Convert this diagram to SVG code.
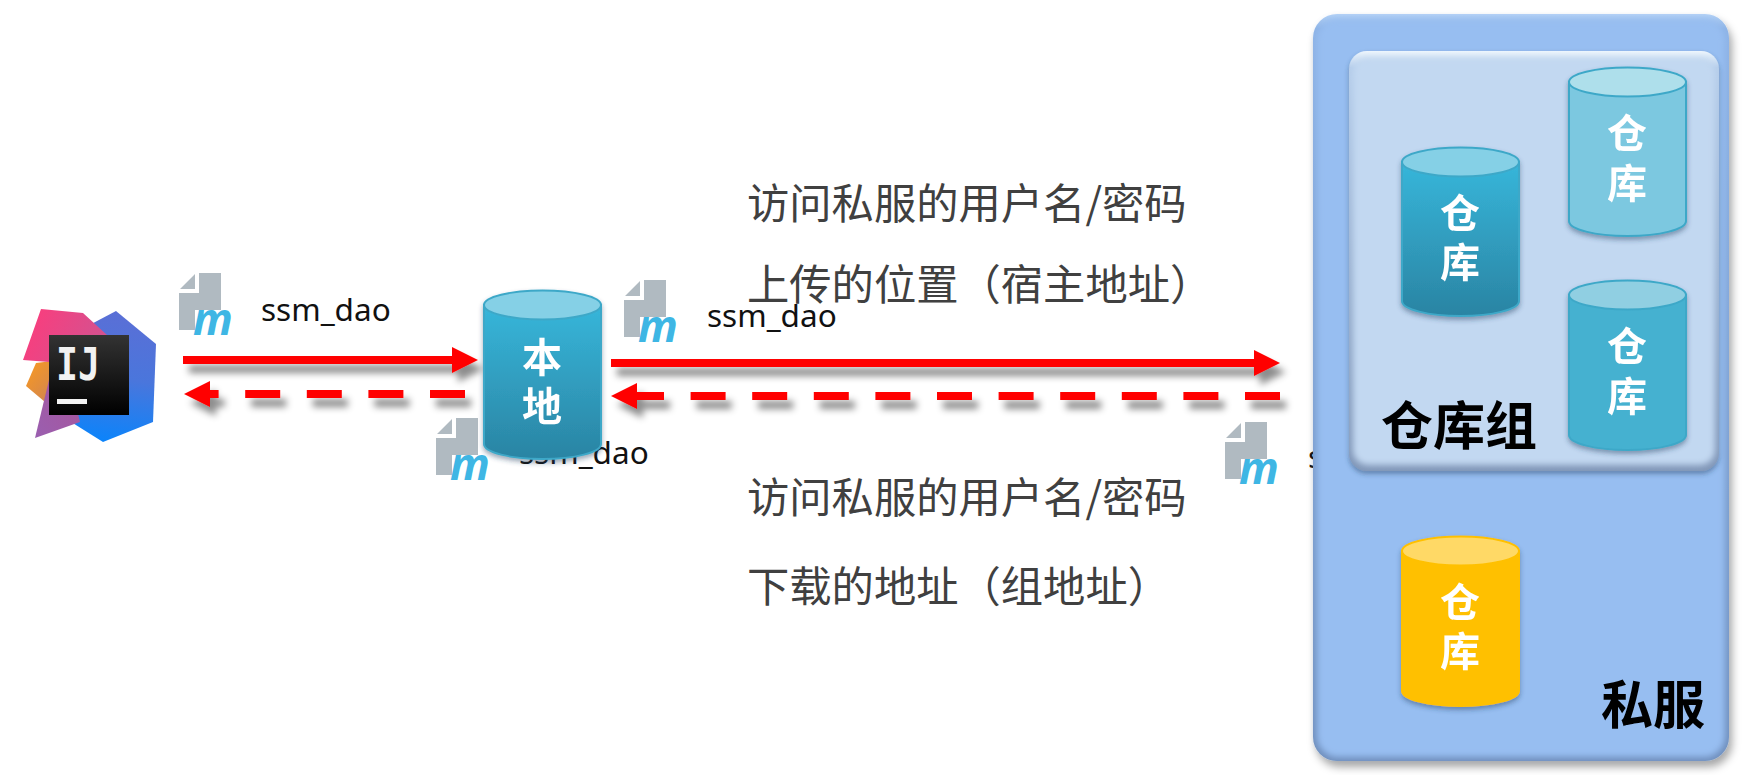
<svg xmlns="http://www.w3.org/2000/svg" width="1762" height="775" viewBox="0 0 1762 775">
<style>
.lbl{font-family:"Noto Sans","Open Sans",sans-serif;font-size:31.500px;fill:#111}
.cn{font-family:"Noto Sans CJK SC",sans-serif;font-size:42.300px;fill:#404040}
.cyl{font-family:"Noto Sans CJK SC",sans-serif;font-size:40px;font-weight:700;fill:#fff;text-anchor:middle}
.big{font-family:"Noto Sans CJK SC",sans-serif;font-size:52px;font-weight:700;fill:#000}
.solid{stroke:#f00;stroke-width:8;fill:none}
.dash{stroke:#f00;stroke-width:8;fill:none;stroke-dasharray:35 26.6}
.head{fill:#f00}
.m{font-family:"Open Sans",sans-serif;font-weight:700;font-style:italic;font-size:44px;fill:#3eb6e4}
</style>
<defs>
<filter id="sh" x="-10%" y="-100%" width="120%" height="400%"><feDropShadow dx="6" dy="9" stdDeviation="3.500" flood-color="#000" flood-opacity=".45"/></filter>
<filter id="csh" x="-20%" y="-20%" width="140%" height="140%"><feDropShadow dx="0" dy="3" stdDeviation="2.500" flood-color="#204060" flood-opacity=".45"/></filter>
<filter id="psh" x="-5%" y="-5%" width="110%" height="110%"><feDropShadow dx="3" dy="6" stdDeviation="4" flood-color="#000" flood-opacity=".35"/></filter>
<filter id="bl" x="-5%" y="-5%" width="110%" height="110%"><feGaussianBlur stdDeviation="3"/></filter>
<linearGradient id="gcy" x1="0" y1="0" x2="0" y2="1"><stop offset="0" stop-color="#37b6da"/><stop offset="1" stop-color="#2a84a3"/></linearGradient>
<linearGradient id="pEdge" x1="0" y1="0" x2="0" y2="1"><stop offset="0" stop-color="#b4d2f6"/><stop offset=".02" stop-color="#8db3e6"/><stop offset="1" stop-color="#6f8fbd"/></linearGradient>
<linearGradient id="iEdge" x1="0" y1="0" x2="0" y2="1"><stop offset="0" stop-color="#eef6fd"/><stop offset=".04" stop-color="#b5cdea"/><stop offset="1" stop-color="#8197b8"/></linearGradient>
<linearGradient id="pk" x1="0" y1="0" x2="1" y2=".3"><stop offset="0" stop-color="#fe3b7b"/><stop offset="1" stop-color="#d5518f"/></linearGradient>
<linearGradient id="bu" x1=".5" y1="0" x2=".4" y2="1"><stop offset="0" stop-color="#5a6fd6"/><stop offset=".5" stop-color="#4a76dc"/><stop offset="1" stop-color="#0a84fb"/></linearGradient>
<linearGradient id="or" x1="0" y1="0" x2="1" y2="1"><stop offset="0" stop-color="#fb9a1e"/><stop offset="1" stop-color="#c9825a"/></linearGradient>
<linearGradient id="pu" x1="0" y1="1" x2="1" y2="0"><stop offset="0" stop-color="#9a5fb0"/><stop offset="1" stop-color="#a8549a"/></linearGradient>
<linearGradient id="bk" x1="0" y1="0" x2="0" y2="1"><stop offset="0" stop-color="#333"/><stop offset="1" stop-color="#000"/></linearGradient>
<symbol id="mvn" viewBox="0 0 56 64" width="56" height="64" overflow="visible">
<path fill="#b0bac1" d="M1 16L16 1V16ZM20 0H42V37H16V57H0V20H20Z"/>
<text class="m" x="14" y="62">m</text>
</symbol>
</defs>
<rect width="1762" height="775" fill="#fff"/>

<g id="idea">
<polygon fill="url(#bu)" points="116,311 156,344 153,422 103,442 60,415 80,330"/>
<polygon fill="url(#or)" points="36,363 26,386 45,402 60,390 60,360"/>
<polygon fill="url(#pu)" points="49,380 35,438 80,422 70,380"/>
<polygon fill="url(#pk)" points="41,309 83,313 107,335 49,335 49,362 23,360"/>
<rect x="49" y="335" width="80" height="80" fill="url(#bk)"/>
<text x="56" y="380" font-family="'DejaVu Sans Mono','Liberation Mono',monospace" font-weight="700" font-size="45" fill="#f2f2f2" textLength="44" lengthAdjust="spacingAndGlyphs">IJ</text>
<rect x="57" y="399" width="30" height="5" fill="#f2f2f2"/>
</g>

<g id="label-ide">
<use href="#mvn" x="179" y="273"/>
<text class="lbl" x="261" y="321">ssm_dao</text>
</g>
<g id="label-local">
<use href="#mvn" x="436" y="418"/>
<text class="lbl" x="519" y="464">ssm_dao</text>
</g>
<g id="label-up">
<use href="#mvn" x="624" y="280"/>
<text class="lbl" x="707" y="327">ssm_dao</text>
</g>
<g id="label-down">
<use href="#mvn" x="1225" y="422"/>
<text class="lbl" x="1308" y="468">ssm_dao</text>
</g>

<g id="connectors">
<g filter="url(#sh)"><path class="solid" d="M183 360H455"/><polygon class="head" points="452,347 478,360 452,373"/></g>
<g filter="url(#sh)"><path class="dash" d="M465 394H210"/><polygon class="head" points="184,394 210,381 210,407"/><rect class="head" x="208" y="390" width="10" height="8"/></g>
<g filter="url(#sh)"><path class="solid" d="M611 363H1258"/><polygon class="head" points="1254,350 1280,363 1254,376"/></g>
<g filter="url(#sh)"><path class="dash" d="M1280 396H637"/><polygon class="head" points="611,396 637,383 637,409"/><rect class="head" x="635" y="392" width="25" height="8"/></g>
</g>

<g id="local" filter="url(#csh)">
<path fill="url(#gcy)" stroke="#3ea8c8" stroke-width="2" d="M484 305V444A58.500 15 0 0 0 601 444V305Z"/>
<ellipse cx="542.500" cy="305" rx="58.500" ry="14.500" fill="#85d0e6" stroke="#3ea8c8" stroke-width="2"/>
<text class="cyl" x="542" y="372">本</text>
<text class="cyl" x="542" y="421">地</text>
</g>

<g id="text-up">
<text class="cn" x="747" y="219">访问私服的用户名/密码</text>
<text class="cn" x="747" y="300">上传的位置（宿主地址）</text>
</g>
<g id="text-down">
<text class="cn" x="747" y="513">访问私服的用户名/密码</text>
<text class="cn" x="747" y="602">下载的地址（组地址）</text>
</g>

<g id="server">
<rect x="1313" y="14" width="416" height="747" rx="24" fill="url(#pEdge)" filter="url(#psh)"/>
<rect x="1317" y="19" width="408" height="738" rx="21" fill="#97bef1" filter="url(#bl)"/>
<text class="big" x="1601" y="724">私服</text>
</g>
<g id="group">
<rect x="1349" y="51" width="370" height="420" rx="18" fill="url(#iEdge)" filter="url(#csh)"/>
<rect x="1353" y="58" width="362" height="407" rx="15" fill="#c2d8f1" filter="url(#bl)"/>
<text class="big" x="1381" y="445">仓库组</text>
</g>
<g id="repo-a" filter="url(#csh)">
<path fill="url(#gcy)" stroke="#3ea8c8" stroke-width="2" d="M1402 162V301A58.500 15 0 0 0 1519 301V162Z"/>
<ellipse cx="1460.500" cy="162" rx="58.500" ry="14.500" fill="#85d0e6" stroke="#3ea8c8" stroke-width="2"/>
<text class="cyl" x="1460" y="228">仓</text>
<text class="cyl" x="1460" y="277">库</text>
</g>
<g id="repo-b" filter="url(#csh)">
<path fill="#7cc8e0" stroke="#3ea8c8" stroke-width="2" d="M1569 82V221A58.500 15 0 0 0 1686 221V82Z"/>
<ellipse cx="1627.500" cy="82" rx="58.500" ry="14.500" fill="#aedfeb" stroke="#3ea8c8" stroke-width="2"/>
<text class="cyl" x="1627" y="148">仓</text>
<text class="cyl" x="1627" y="198">库</text>
</g>
<g id="repo-c" filter="url(#csh)">
<path fill="#45b1d0" stroke="#3ea8c8" stroke-width="2" d="M1569 295V435A58.500 15 0 0 0 1686 435V295Z"/>
<ellipse cx="1627.500" cy="295" rx="58.500" ry="14.500" fill="#90cfe2" stroke="#3ea8c8" stroke-width="2"/>
<text class="cyl" x="1627" y="361">仓</text>
<text class="cyl" x="1627" y="411">库</text>
</g>
<g id="repo-d" filter="url(#csh)">
<path fill="#ffc000" stroke="#ffc000" stroke-width="2" d="M1402 551V691A58.500 15 0 0 0 1519 691V551Z"/>
<ellipse cx="1460.500" cy="551" rx="58.500" ry="14.500" fill="#ffd966" stroke="#ffc000" stroke-width="2"/>
<text class="cyl" x="1460" y="617">仓</text>
<text class="cyl" x="1460" y="666">库</text>
</g>
</svg>
